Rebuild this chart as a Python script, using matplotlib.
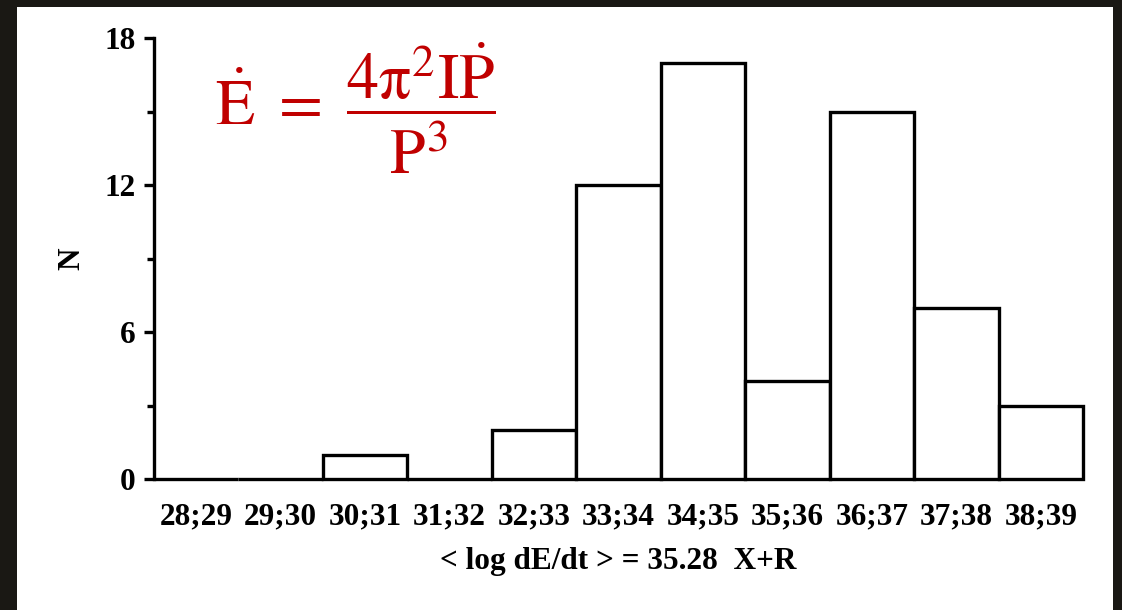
import matplotlib.pyplot as plt
from matplotlib.patches import Rectangle
from matplotlib.ticker import MultipleLocator

# log dE/dt bins and counts
bins = ['28;29', '29;30', '30;31', '31;32', '32;33', '33;34',
        '34;35', '35;36', '36;37', '37;38', '38;39']
counts = [0, 0, 1, 0, 2, 12, 17, 4, 15, 7, 3]

plt.rcParams['font.family'] = ['Liberation Serif', 'DejaVu Serif']
plt.rcParams['font.weight'] = 'normal'
plt.rcParams['mathtext.fontset'] = 'stix'

fig = plt.figure(figsize=(11.22, 6.10), dpi=100, facecolor='#1a1814')
# white panel inside the dark frame
fig.patches.append(Rectangle((17 / 1122, 0), 1096 / 1122, 1 - 7 / 610,
                             transform=fig.transFigure, facecolor='white',
                             edgecolor='none', zorder=0))

ax = fig.add_axes([154 / 1122, 1 - 479 / 610, 929 / 1122, 441 / 610])
ax.set_facecolor('none')
ax.set_zorder(2)

x = range(len(bins))
ax.bar(x, counts, width=1.0, color='white', edgecolor='black', linewidth=2.4,
       clip_on=False, zorder=3)

ax.set_xlim(-0.5, len(bins) - 0.5)
ax.set_ylim(0, 18)
ax.set_xticks(list(x))
ax.set_xticklabels(bins)
ax.yaxis.set_major_locator(MultipleLocator(6))
ax.yaxis.set_minor_locator(MultipleLocator(3))

for s in ['top', 'right', 'bottom']:
    ax.spines[s].set_visible(False)
ax.spines['left'].set_linewidth(2.4)

ax.tick_params(axis='x', length=0, pad=17, labelsize=22.5)
ax.tick_params(axis='y', which='major', length=7, width=2.4, pad=6, labelsize=22.5)
ax.tick_params(axis='y', which='minor', length=5, width=2.4)
for lab in ax.get_xticklabels() + ax.get_yticklabels():
    lab.set_fontweight('bold')

ax.set_xlabel('< log dE/dt > = 35.28  X+R', fontsize=22.5, fontweight='bold', labelpad=11)
ax.set_ylabel('N', fontsize=22.5, fontweight='bold', labelpad=13)

# spin-down luminosity formula
fig.text(355 / 1122, 1 - 108 / 610,
         r'$\dot{\mathrm{E}}\ =\ \dfrac{4\mathrm{\pi}^{2}\mathrm{I}\dot{\mathrm{P}}}{\mathrm{P}^{3}}$',
         color='#c00000', fontsize=46, ha='center', va='center', zorder=3)

fig.savefig('out.png', dpi=100, facecolor=fig.get_facecolor())
